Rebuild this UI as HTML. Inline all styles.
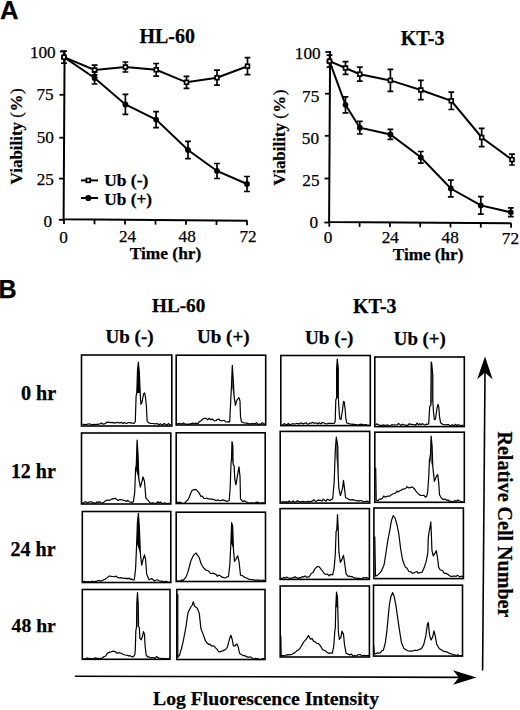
<!DOCTYPE html>
<html><head><meta charset="utf-8"><style>
html,body{margin:0;padding:0;background:#fff;}
body{width:520px;height:710px;overflow:hidden;}
svg{display:block;}
text{fill:#000;stroke:#000;stroke-width:0.25px;}
</style></head><body>
<svg width="520" height="710" viewBox="0 0 520 710">
<path d="M64.61,50.5 L63.6,219.29999999999998 L247.5,220.70" fill="none" stroke="#000" stroke-width="2" stroke-linejoin="miter"/>
<line x1="59.81" y1="51.5" x2="64.61" y2="51.5" stroke="#000" stroke-width="1.8"/>
<line x1="59.55" y1="94.8" x2="64.35" y2="94.8" stroke="#000" stroke-width="1.8"/>
<line x1="59.29" y1="137.7" x2="64.09" y2="137.7" stroke="#000" stroke-width="1.8"/>
<line x1="59.05" y1="178.6" x2="63.85" y2="178.6" stroke="#000" stroke-width="1.8"/>
<line x1="58.80" y1="219.8" x2="63.60" y2="219.8" stroke="#000" stroke-width="1.8"/>
<line x1="64.0" y1="219.60" x2="64.0" y2="224.10" stroke="#000" stroke-width="1.8"/>
<line x1="94.5" y1="219.78" x2="94.5" y2="224.28" stroke="#000" stroke-width="1.8"/>
<line x1="125.0" y1="219.97" x2="125.0" y2="224.47" stroke="#000" stroke-width="1.8"/>
<line x1="155.5" y1="220.15" x2="155.5" y2="224.65" stroke="#000" stroke-width="1.8"/>
<line x1="186.0" y1="220.33" x2="186.0" y2="224.83" stroke="#000" stroke-width="1.8"/>
<line x1="216.5" y1="220.51" x2="216.5" y2="225.01" stroke="#000" stroke-width="1.8"/>
<line x1="247.0" y1="220.70" x2="247.0" y2="225.20" stroke="#000" stroke-width="1.8"/>
<polyline points="64.0,57.2 94.6,70.0 125.4,67.0 156.2,69.8 186.5,82.3 217.0,77.7 247.5,66.2" fill="none" stroke="#000" stroke-width="2"/>
<polyline points="64.0,57.2 94.6,78.0 125.4,104.4 156.1,119.6 188.0,150.0 217.0,171.0 247.0,184.0" fill="none" stroke="#000" stroke-width="2"/>
<path d="M64.0,51.2 V63.2 M61.1,51.2 H66.9 M61.1,63.2 H66.9" stroke="#000" stroke-width="1.7" fill="none"/>
<path d="M94.6,65.2 V74.8 M91.7,65.2 H97.5 M91.7,74.8 H97.5" stroke="#000" stroke-width="1.7" fill="none"/>
<path d="M125.4,62.0 V72.0 M122.5,62.0 H128.3 M122.5,72.0 H128.3" stroke="#000" stroke-width="1.7" fill="none"/>
<path d="M156.2,63.5 V76.1 M153.3,63.5 H159.1 M153.3,76.1 H159.1" stroke="#000" stroke-width="1.7" fill="none"/>
<path d="M186.5,76.3 V88.3 M183.6,76.3 H189.4 M183.6,88.3 H189.4" stroke="#000" stroke-width="1.7" fill="none"/>
<path d="M217.0,70.2 V85.2 M214.1,70.2 H219.9 M214.1,85.2 H219.9" stroke="#000" stroke-width="1.7" fill="none"/>
<path d="M247.5,57.7 V74.7 M244.6,57.7 H250.4 M244.6,74.7 H250.4" stroke="#000" stroke-width="1.7" fill="none"/>
<path d="M94.6,72.0 V84.0 M91.7,72.0 H97.5 M91.7,84.0 H97.5" stroke="#000" stroke-width="1.7" fill="none"/>
<path d="M125.4,94.4 V114.4 M122.5,94.4 H128.3 M122.5,114.4 H128.3" stroke="#000" stroke-width="1.7" fill="none"/>
<path d="M156.1,111.6 V127.6 M153.2,111.6 H159.0 M153.2,127.6 H159.0" stroke="#000" stroke-width="1.7" fill="none"/>
<path d="M188.0,141.3 V158.7 M185.1,141.3 H190.9 M185.1,158.7 H190.9" stroke="#000" stroke-width="1.7" fill="none"/>
<path d="M217.0,163.5 V178.5 M214.1,163.5 H219.9 M214.1,178.5 H219.9" stroke="#000" stroke-width="1.7" fill="none"/>
<path d="M247.0,176.5 V191.5 M244.1,176.5 H249.9 M244.1,191.5 H249.9" stroke="#000" stroke-width="1.7" fill="none"/>
<circle cx="64.0" cy="57.2" r="2.9" fill="#000"/>
<circle cx="94.6" cy="78.0" r="2.9" fill="#000"/>
<circle cx="125.4" cy="104.4" r="2.9" fill="#000"/>
<circle cx="156.1" cy="119.6" r="2.9" fill="#000"/>
<circle cx="188.0" cy="150.0" r="2.9" fill="#000"/>
<circle cx="217.0" cy="171.0" r="2.9" fill="#000"/>
<circle cx="247.0" cy="184.0" r="2.9" fill="#000"/>
<rect x="62.1" y="55.3" width="3.8" height="3.8" fill="#fff" stroke="#000" stroke-width="1.7"/>
<rect x="92.7" y="68.1" width="3.8" height="3.8" fill="#fff" stroke="#000" stroke-width="1.7"/>
<rect x="123.5" y="65.1" width="3.8" height="3.8" fill="#fff" stroke="#000" stroke-width="1.7"/>
<rect x="154.3" y="67.9" width="3.8" height="3.8" fill="#fff" stroke="#000" stroke-width="1.7"/>
<rect x="184.6" y="80.4" width="3.8" height="3.8" fill="#fff" stroke="#000" stroke-width="1.7"/>
<rect x="215.1" y="75.8" width="3.8" height="3.8" fill="#fff" stroke="#000" stroke-width="1.7"/>
<rect x="245.6" y="64.3" width="3.8" height="3.8" fill="#fff" stroke="#000" stroke-width="1.7"/>
<path d="M330.12,51 L329.1,221.89999999999998 L511.3,223.30" fill="none" stroke="#000" stroke-width="2" stroke-linejoin="miter"/>
<line x1="325.32" y1="52" x2="330.12" y2="52" stroke="#000" stroke-width="1.8"/>
<line x1="325.07" y1="93.7" x2="329.87" y2="93.7" stroke="#000" stroke-width="1.8"/>
<line x1="324.82" y1="135.8" x2="329.62" y2="135.8" stroke="#000" stroke-width="1.8"/>
<line x1="324.56" y1="178.5" x2="329.36" y2="178.5" stroke="#000" stroke-width="1.8"/>
<line x1="324.30" y1="222.5" x2="329.10" y2="222.5" stroke="#000" stroke-width="1.8"/>
<line x1="329.3" y1="222.20" x2="329.3" y2="226.70" stroke="#000" stroke-width="1.8"/>
<line x1="359.6" y1="222.38" x2="359.6" y2="226.88" stroke="#000" stroke-width="1.8"/>
<line x1="389.9" y1="222.57" x2="389.9" y2="227.07" stroke="#000" stroke-width="1.8"/>
<line x1="420.2" y1="222.75" x2="420.2" y2="227.25" stroke="#000" stroke-width="1.8"/>
<line x1="450.5" y1="222.93" x2="450.5" y2="227.43" stroke="#000" stroke-width="1.8"/>
<line x1="480.8" y1="223.12" x2="480.8" y2="227.62" stroke="#000" stroke-width="1.8"/>
<line x1="511.1" y1="223.30" x2="511.1" y2="227.80" stroke="#000" stroke-width="1.8"/>
<polyline points="329.5,61.2 345.5,68.0 359.8,74.2 390.4,80.4 420.8,90.0 451.3,100.8 481.7,137.5 512.0,159.6" fill="none" stroke="#000" stroke-width="2"/>
<polyline points="329.5,61.2 345.5,104.8 359.8,127.7 390.4,134.4 420.8,157.3 450.8,188.5 480.8,205.4 510.8,212.3" fill="none" stroke="#000" stroke-width="2"/>
<path d="M329.5,55.2 V67.2 M326.6,55.2 H332.4 M326.6,67.2 H332.4" stroke="#000" stroke-width="1.7" fill="none"/>
<path d="M345.5,61.7 V74.3 M342.6,61.7 H348.4 M342.6,74.3 H348.4" stroke="#000" stroke-width="1.7" fill="none"/>
<path d="M359.8,67.2 V81.2 M356.9,67.2 H362.7 M356.9,81.2 H362.7" stroke="#000" stroke-width="1.7" fill="none"/>
<path d="M390.4,69.4 V91.4 M387.5,69.4 H393.3 M387.5,91.4 H393.3" stroke="#000" stroke-width="1.7" fill="none"/>
<path d="M420.8,80.4 V99.6 M417.9,80.4 H423.7 M417.9,99.6 H423.7" stroke="#000" stroke-width="1.7" fill="none"/>
<path d="M451.3,92.1 V109.5 M448.4,92.1 H454.2 M448.4,109.5 H454.2" stroke="#000" stroke-width="1.7" fill="none"/>
<path d="M481.7,128.3 V146.7 M478.8,128.3 H484.6 M478.8,146.7 H484.6" stroke="#000" stroke-width="1.7" fill="none"/>
<path d="M512.0,154.2 V165.0 M509.1,154.2 H514.9 M509.1,165.0 H514.9" stroke="#000" stroke-width="1.7" fill="none"/>
<path d="M345.5,96.8 V112.8 M342.6,96.8 H348.4 M342.6,112.8 H348.4" stroke="#000" stroke-width="1.7" fill="none"/>
<path d="M359.8,121.4 V134.0 M356.9,121.4 H362.7 M356.9,134.0 H362.7" stroke="#000" stroke-width="1.7" fill="none"/>
<path d="M390.4,129.4 V139.4 M387.5,129.4 H393.3 M387.5,139.4 H393.3" stroke="#000" stroke-width="1.7" fill="none"/>
<path d="M420.8,151.5 V163.1 M417.9,151.5 H423.7 M417.9,163.1 H423.7" stroke="#000" stroke-width="1.7" fill="none"/>
<path d="M450.8,180.2 V196.8 M447.9,180.2 H453.7 M447.9,196.8 H453.7" stroke="#000" stroke-width="1.7" fill="none"/>
<path d="M480.8,196.7 V214.1 M477.9,196.7 H483.7 M477.9,214.1 H483.7" stroke="#000" stroke-width="1.7" fill="none"/>
<path d="M510.8,207.9 V216.7 M507.9,207.9 H513.7 M507.9,216.7 H513.7" stroke="#000" stroke-width="1.7" fill="none"/>
<circle cx="329.5" cy="61.2" r="2.9" fill="#000"/>
<circle cx="345.5" cy="104.8" r="2.9" fill="#000"/>
<circle cx="359.8" cy="127.7" r="2.9" fill="#000"/>
<circle cx="390.4" cy="134.4" r="2.9" fill="#000"/>
<circle cx="420.8" cy="157.3" r="2.9" fill="#000"/>
<circle cx="450.8" cy="188.5" r="2.9" fill="#000"/>
<circle cx="480.8" cy="205.4" r="2.9" fill="#000"/>
<circle cx="510.8" cy="212.3" r="2.9" fill="#000"/>
<rect x="327.6" y="59.3" width="3.8" height="3.8" fill="#fff" stroke="#000" stroke-width="1.7"/>
<rect x="343.6" y="66.1" width="3.8" height="3.8" fill="#fff" stroke="#000" stroke-width="1.7"/>
<rect x="357.9" y="72.3" width="3.8" height="3.8" fill="#fff" stroke="#000" stroke-width="1.7"/>
<rect x="388.5" y="78.5" width="3.8" height="3.8" fill="#fff" stroke="#000" stroke-width="1.7"/>
<rect x="418.9" y="88.1" width="3.8" height="3.8" fill="#fff" stroke="#000" stroke-width="1.7"/>
<rect x="449.4" y="98.9" width="3.8" height="3.8" fill="#fff" stroke="#000" stroke-width="1.7"/>
<rect x="479.8" y="135.6" width="3.8" height="3.8" fill="#fff" stroke="#000" stroke-width="1.7"/>
<rect x="510.1" y="157.7" width="3.8" height="3.8" fill="#fff" stroke="#000" stroke-width="1.7"/>
<line x1="81" y1="180.4" x2="98" y2="180.4" stroke="#000" stroke-width="2"/>
<rect x="86.4" y="178.5" width="3.8" height="3.8" fill="#fff" stroke="#000" stroke-width="1.7"/>
<line x1="81" y1="198" x2="98" y2="198" stroke="#000" stroke-width="2"/>
<circle cx="88.3" cy="198" r="3.1" fill="#000"/>
<rect x="81.5" y="355" width="90.3" height="71.0" fill="none" stroke="#000" stroke-width="1.6"/>
<rect x="81.5" y="433" width="89.3" height="71.0" fill="none" stroke="#000" stroke-width="1.6"/>
<rect x="82.3" y="511.5" width="88.5" height="71.0" fill="none" stroke="#000" stroke-width="1.6"/>
<rect x="82.3" y="589.5" width="87.7" height="69.8" fill="none" stroke="#000" stroke-width="1.6"/>
<rect x="176.2" y="355.2" width="89.5" height="69.8" fill="none" stroke="#000" stroke-width="1.6"/>
<rect x="176.2" y="432.8" width="89.0" height="70.7" fill="none" stroke="#000" stroke-width="1.6"/>
<rect x="176.2" y="512.2" width="89.3" height="69.3" fill="none" stroke="#000" stroke-width="1.6"/>
<rect x="176.8" y="589.5" width="88.2" height="70.0" fill="none" stroke="#000" stroke-width="1.6"/>
<rect x="280.8" y="355.5" width="89.5" height="70.1" fill="none" stroke="#000" stroke-width="1.6"/>
<rect x="280.2" y="431.4" width="89.5" height="71.7" fill="none" stroke="#000" stroke-width="1.6"/>
<rect x="280.1" y="508.6" width="89.3" height="70.8" fill="none" stroke="#000" stroke-width="1.6"/>
<rect x="280.2" y="586" width="89.2" height="71.0" fill="none" stroke="#000" stroke-width="1.6"/>
<rect x="374.8" y="357" width="89.5" height="69.6" fill="none" stroke="#000" stroke-width="1.6"/>
<rect x="374.8" y="432.2" width="89.5" height="70.1" fill="none" stroke="#000" stroke-width="1.6"/>
<rect x="373.9" y="508" width="89.5" height="70.6" fill="none" stroke="#000" stroke-width="1.6"/>
<rect x="373.5" y="585.2" width="89.0" height="70.9" fill="none" stroke="#000" stroke-width="1.6"/>
<polygon points="136.8,393.0 137.5,370.4 138.4,362.2 139.4,373.5 140.2,393.0" fill="#000" stroke="none"/>
<polyline points="82.5,424.5 83.8,424.3 85.2,424.7 86.5,424.3 87.9,424.2 89.2,423.8 90.6,424.2 91.9,424.8 93.3,424.4 94.6,424.7 96.0,424.3 97.3,424.3 98.7,424.1 100.0,424.0 101.3,422.9 102.7,424.1 104.0,423.8 105.3,423.6 106.7,422.3 108.0,422.1 109.4,422.4 110.7,422.7 112.0,422.4 113.4,422.9 114.7,422.7 116.0,423.0 117.3,422.3 118.7,422.9 120.0,422.9 121.3,422.3 122.7,423.6 124.0,422.7 125.4,423.1 126.8,423.5 128.2,422.6 129.6,422.6 131.0,422.9 132.4,423.2 133.8,423.3 135.3,421.8 136.1,396.1 136.8,393.0 137.5,370.4 138.4,362.2 139.4,373.5 140.2,393.0 140.9,404.3 142.0,402.3 143.5,394.0 144.7,393.0 145.6,398.2 146.4,406.4 147.1,420.8 148.6,422.8 150.2,423.4 151.8,423.5 153.4,423.5 155.0,424.0 156.3,423.5 157.7,423.8 159.0,424.9 160.3,423.8 161.7,424.5 163.0,424.6 164.3,423.6 165.7,424.6 167.0,425.3 168.3,423.6 169.7,424.6 171.0,424.8" fill="none" stroke="#000" stroke-width="1.2" stroke-linejoin="round"/>
<polygon points="231.5,385.8 232.3,365.3 233.3,380.7 234.1,396.1" fill="#555" stroke="none"/>
<polyline points="177.0,423.8 178.3,423.7 179.6,423.3 180.9,424.0 182.2,423.7 183.6,422.9 184.9,424.1 186.2,424.0 187.5,424.2 188.8,424.4 190.1,423.8 191.4,423.7 192.8,422.9 194.1,423.9 195.4,423.2 196.7,423.3 198.0,423.5 199.4,421.6 200.8,421.0 202.7,419.1 204.5,418.3 206.1,418.4 207.7,419.8 209.3,418.3 210.9,419.8 212.2,419.1 213.5,420.1 214.8,420.9 216.2,420.5 217.5,419.3 218.8,419.0 220.1,420.5 221.5,420.9 222.9,420.5 224.3,420.4 225.7,421.8 227.1,422.0 228.5,421.6 229.7,421.8 230.2,411.5 231.5,385.8 232.3,365.3 233.3,380.7 234.1,396.1 235.4,405.4 236.9,400.2 239.0,397.7 240.0,401.2 240.5,416.7 241.5,421.8 243.6,422.8 245.0,423.0 246.5,423.1 247.9,423.3 249.4,424.0 250.8,423.6 252.3,423.6 253.8,423.7 255.2,423.5 256.6,422.7 258.0,424.3 259.4,424.2 260.8,424.1 262.2,422.8 263.6,423.6 265.0,424.0" fill="none" stroke="#000" stroke-width="1.2" stroke-linejoin="round"/>
<polygon points="336.6,398.0 336.6,368.8 337.3,359.0 338.3,368.8 338.3,398.0" fill="#000" stroke="none"/>
<polyline points="281.5,424.8 282.9,425.1 284.2,423.6 285.6,424.3 287.0,424.9 288.3,423.5 289.7,425.0 291.0,424.3 292.4,423.8 293.8,423.9 295.1,424.0 296.5,423.5 297.8,423.5 299.2,424.1 300.5,423.1 301.8,423.2 303.2,423.9 304.5,423.4 305.9,422.8 307.2,423.8 308.5,424.1 309.9,423.0 311.2,423.2 312.6,422.4 313.9,423.1 315.3,423.1 316.7,423.0 318.1,424.0 319.4,422.6 320.8,423.9 322.2,422.5 323.5,422.8 324.9,423.5 326.3,423.8 327.6,423.7 329.0,423.4 330.4,423.3 331.8,423.3 333.1,423.5 334.5,423.2 335.2,421.0 335.8,400.0 336.6,398.0 336.6,368.8 337.3,359.0 338.3,368.8 338.3,398.0 339.2,412.0 339.8,419.0 341.0,419.5 342.5,410.0 343.5,401.4 344.3,402.0 345.2,410.0 345.8,418.0 346.7,423.0 348.4,423.4 350.0,424.0 351.3,424.2 352.6,424.4 353.9,424.2 355.2,424.6 356.5,424.6 357.8,425.4 359.1,424.6 360.4,424.2 361.7,424.3 363.0,424.5 364.3,425.1 365.6,424.5 366.9,424.9 368.2,425.8 369.5,424.8" fill="none" stroke="#000" stroke-width="1.2" stroke-linejoin="round"/>
<polygon points="430.8,405.4 431.2,362.2 431.6,362.5 432.8,375.0 432.8,400.2" fill="#666" stroke="none"/>
<polyline points="375.5,425.2 376.9,423.8 378.2,424.6 379.6,425.3 381.0,425.4 382.3,425.3 383.7,424.9 385.1,425.5 386.4,425.2 387.8,424.8 389.2,426.4 390.5,425.2 391.9,424.7 393.3,425.0 394.6,424.9 396.0,425.0 397.3,424.9 398.6,423.4 400.0,424.6 401.3,425.4 402.6,424.2 403.9,424.7 405.2,425.3 406.6,425.2 407.9,425.5 409.2,423.7 410.5,424.4 411.9,424.4 413.2,424.9 414.5,424.5 415.8,425.1 417.1,423.0 418.4,425.0 419.7,423.6 421.0,424.8 422.3,423.6 423.6,424.5 424.9,425.0 426.2,424.2 427.5,424.3 428.7,423.9 429.5,410.0 429.8,406.4 430.8,405.4 431.2,362.2 431.6,362.5 432.8,375.0 432.8,400.2 433.5,412.0 434.4,419.7 435.5,419.0 437.0,408.0 438.0,404.3 438.8,407.0 439.5,416.7 440.6,422.8 443.0,424.5 444.4,424.7 445.7,425.0 447.1,424.7 448.5,424.6 449.8,425.6 451.2,425.4 452.6,424.7 453.9,426.4 455.3,424.3 456.7,425.5 458.0,424.9 459.4,425.1 460.8,425.5 462.1,425.3 463.5,425.2" fill="none" stroke="#000" stroke-width="1.2" stroke-linejoin="round"/>
<polygon points="135.6,468.6 136.3,464.9 137.1,440.0 138.0,453.8 138.9,479.7" fill="#000" stroke="none"/>
<polyline points="82.0,502.8 83.4,503.1 84.7,501.9 86.1,501.9 87.5,503.0 88.8,502.1 90.2,502.0 91.5,501.7 92.9,503.2 94.3,502.9 95.6,503.2 97.0,501.9 98.3,502.4 99.7,501.7 101.1,502.7 102.4,503.1 103.8,502.2 105.7,500.6 107.5,500.0 109.1,500.4 110.6,499.7 112.2,498.7 113.7,498.9 115.3,498.2 116.8,499.6 118.2,500.5 119.5,499.7 120.9,499.6 122.3,500.0 123.7,500.4 125.1,500.7 126.5,501.5 127.8,500.3 129.2,501.7 130.6,502.2 132.0,502.4 133.4,501.8 134.7,492.6 135.6,468.6 136.3,464.9 137.1,440.0 138.0,453.8 138.9,479.7 140.4,487.1 141.9,481.5 143.0,476.9 144.5,481.5 145.9,498.2 147.3,499.6 148.6,500.9 150.0,502.8 151.3,503.4 152.7,502.9 154.0,503.0 155.3,503.7 156.7,502.8 158.0,501.7 159.3,502.8 160.7,502.0 162.0,503.6 163.3,503.3 164.7,502.8 166.0,503.2 167.3,503.7 168.7,503.3 170.0,503.3" fill="none" stroke="#000" stroke-width="1.2" stroke-linejoin="round"/>
<polygon points="231.5,458.7 232.0,441.7 232.8,445.3 233.1,463.8" fill="#555" stroke="none"/>
<polyline points="177.0,501.8 178.3,502.7 179.7,502.1 181.1,502.9 182.4,503.3 183.8,503.5 185.1,502.8 186.4,501.0 187.8,500.0 189.2,497.2 190.6,493.5 192.0,490.6 193.4,489.8 195.8,489.3 198.0,491.7 199.4,493.4 200.8,496.3 202.3,496.0 203.9,498.4 205.4,498.5 206.7,498.0 208.0,498.8 209.3,498.9 210.7,499.1 212.0,499.0 213.3,499.6 214.6,499.6 216.0,500.7 217.4,499.9 218.8,500.4 220.1,500.8 221.5,500.3 222.9,499.9 224.3,500.4 225.7,500.9 227.4,501.3 229.2,500.5 230.2,487.5 231.0,463.8 231.5,458.7 232.0,441.7 232.8,445.3 233.1,463.8 234.1,465.9 234.8,479.2 235.9,484.9 237.4,476.2 239.0,466.9 240.0,476.2 240.5,498.8 242.6,501.3 244.3,500.8 246.0,501.8 247.7,502.5 249.1,503.1 250.5,503.1 251.9,502.7 253.3,503.2 254.7,502.9 256.1,502.3 257.5,502.1 258.9,502.7 260.3,503.6 261.7,502.9 263.1,502.7 264.5,503.3" fill="none" stroke="#000" stroke-width="1.2" stroke-linejoin="round"/>
<polygon points="335.3,450.0 336.3,437.2 337.8,446.4 338.2,475.2" fill="#666" stroke="none"/>
<polyline points="281.0,502.4 282.4,501.9 283.7,501.5 285.1,502.2 286.5,501.6 287.9,502.4 289.2,500.8 290.6,502.3 292.0,501.7 293.3,500.9 294.7,502.4 296.1,501.8 297.5,500.7 298.8,501.4 300.2,501.8 301.6,501.9 302.9,501.3 304.3,501.9 305.6,501.8 307.0,501.7 308.3,501.4 309.7,501.8 311.0,501.4 312.4,501.1 313.7,499.7 315.1,501.2 316.4,501.3 317.8,500.3 319.1,500.1 320.5,500.3 321.9,501.2 323.2,499.1 324.6,500.2 326.0,501.1 327.4,499.2 328.8,499.9 330.1,500.5 331.5,499.3 332.7,499.0 334.2,481.4 335.3,450.0 336.3,437.2 337.8,446.4 338.2,475.2 338.9,488.6 340.4,495.7 342.5,488.6 343.5,480.3 344.5,488.6 345.6,497.8 347.1,498.3 348.6,499.2 350.2,499.9 351.7,499.9 353.0,499.6 354.4,500.2 355.7,500.5 357.0,501.0 358.4,500.7 359.7,500.8 361.0,500.5 362.3,501.0 363.7,501.8 365.0,501.6 366.3,501.2 367.7,501.4 369.0,502.0" fill="none" stroke="#000" stroke-width="1.2" stroke-linejoin="round"/>
<polygon points="429.5,459.8 430.5,454.6 431.1,436.1 432.1,446.4 432.8,467.0" fill="#666" stroke="none"/>
<polyline points="375.7,467.7 376.2,500.0 377.8,501.0 379.4,499.1 380.9,499.2 382.4,498.3 383.8,496.0 385.3,497.2 386.8,496.3 388.3,496.0 389.8,496.1 391.2,494.9 392.7,494.0 394.2,493.5 395.6,493.1 396.9,491.1 398.3,492.0 399.7,490.8 401.2,490.3 402.8,489.1 404.3,488.9 405.7,488.5 407.1,486.7 409.0,488.0 410.8,487.4 412.1,486.9 413.5,488.0 414.9,489.5 416.3,491.7 418.1,493.6 420.0,495.2 421.3,495.5 422.7,495.4 424.0,495.3 425.4,497.2 426.7,496.3 427.7,491.6 428.7,477.2 429.5,459.8 430.5,454.6 431.1,436.1 432.1,446.4 432.8,467.0 434.4,481.4 436.4,476.2 437.7,474.7 438.7,482.4 439.5,494.7 441.6,498.3 443.3,499.6 445.0,499.0 446.7,500.4 448.1,499.8 449.5,501.5 450.9,501.2 452.3,501.8 453.7,501.3 455.1,500.5 456.5,501.2 457.9,499.9 459.3,500.8 460.7,501.3 462.1,501.7 463.5,501.5" fill="none" stroke="#000" stroke-width="1.2" stroke-linejoin="round"/>
<polygon points="136.7,542.9 137.4,522.6 138.4,513.4 139.3,526.3 140.4,554.0" fill="#000" stroke="none"/>
<polyline points="83.0,581.7 84.3,581.3 85.7,581.6 87.0,581.8 88.4,581.7 89.8,581.9 91.1,581.6 92.5,581.2 93.8,581.8 95.2,581.4 96.5,581.3 97.9,580.7 99.2,580.7 100.6,580.9 102.0,580.8 103.8,579.8 105.7,578.9 107.3,577.6 109.0,576.1 110.4,576.2 111.7,576.5 113.1,576.5 114.6,576.6 116.1,576.2 117.5,577.4 119.0,578.0 120.5,577.6 122.0,578.1 123.4,578.0 124.9,578.6 126.3,578.1 127.8,578.9 129.1,578.0 130.4,579.3 131.7,578.9 133.0,580.0 134.3,579.8 135.6,568.8 136.7,542.9 137.4,522.6 138.4,513.4 139.3,526.3 140.4,554.0 141.7,565.1 143.0,559.5 144.5,554.9 145.6,559.5 146.7,574.3 149.1,579.8 150.4,579.3 151.7,578.6 153.0,579.6 154.3,581.1 155.6,580.2 156.9,579.8 158.2,580.2 159.6,581.0 160.9,581.1 162.2,581.1 163.5,581.9 164.8,581.6 166.1,581.3 167.4,581.8 168.7,582.5 170.0,581.7" fill="none" stroke="#000" stroke-width="1.2" stroke-linejoin="round"/>
<polygon points="230.9,542.9 231.6,522.6 232.7,526.3 233.4,548.5" fill="#000" stroke="none"/>
<polyline points="177.0,580.8 178.6,581.2 180.1,581.2 181.6,579.9 183.2,580.4 184.6,578.7 186.0,577.1 187.4,573.4 188.8,568.8 191.0,560.5 193.4,555.5 194.8,554.1 196.2,553.1 197.6,555.5 198.9,556.8 201.3,564.2 202.9,566.8 204.5,568.8 206.0,570.2 207.6,570.5 209.1,571.5 210.5,573.5 211.8,573.4 213.2,573.2 214.6,573.9 216.0,574.4 217.4,576.3 218.8,575.1 220.2,575.8 222.0,577.2 223.8,577.6 225.4,577.8 226.9,576.9 228.5,576.5 229.8,565.1 230.9,542.9 231.6,522.6 232.7,526.3 233.4,548.5 234.5,561.4 235.8,559.5 237.7,555.8 239.0,561.4 240.5,575.2 242.3,575.5 244.2,577.1 245.7,577.7 247.1,578.3 248.6,579.2 250.0,579.5 251.5,579.5 252.8,579.6 254.2,580.2 255.6,580.2 256.9,580.1 258.2,580.2 259.6,580.1 260.9,580.8 262.3,580.0 263.6,580.3 265.0,580.8" fill="none" stroke="#000" stroke-width="1.2" stroke-linejoin="round"/>
<polygon points="336.8,530.1 337.5,514.7 338.2,528.6" fill="#000" stroke="none"/>
<polyline points="281.0,578.4 282.4,578.3 283.8,577.4 285.2,577.9 286.6,577.0 288.0,577.7 289.5,578.3 290.9,578.2 292.3,577.8 293.7,577.6 295.1,576.9 296.5,577.6 297.9,578.5 299.4,577.6 300.8,577.8 302.2,576.6 303.7,576.9 305.1,575.9 306.5,577.2 308.0,577.1 309.4,576.5 311.2,573.5 313.1,572.5 314.9,568.8 316.8,566.9 319.0,566.5 321.4,569.7 322.8,571.5 324.2,573.4 325.8,574.5 327.5,574.0 329.1,575.8 330.9,574.3 332.7,574.8 334.2,567.6 335.3,554.2 336.1,531.6 336.8,530.1 337.5,514.7 338.2,528.6 338.9,552.2 340.4,562.5 342.0,559.4 343.5,555.3 345.0,565.6 346.1,573.8 348.1,576.3 349.4,576.0 350.8,576.6 352.1,576.5 353.5,577.6 354.8,577.9 356.2,578.1 357.6,578.3 359.1,578.4 360.5,578.9 361.9,578.8 363.3,577.5 364.7,578.0 366.2,577.7 367.6,577.8 369.0,578.4" fill="none" stroke="#000" stroke-width="1.2" stroke-linejoin="round"/>
<polyline points="374.8,536.5 375.5,576.1 377.5,575.2 379.4,573.3 381.2,571.5 382.6,568.3 384.0,565.1 385.8,554.0 387.7,541.1 389.5,531.8 391.4,520.8 393.2,515.6 395.1,518.0 396.9,524.5 398.8,533.7 400.6,548.5 402.5,559.5 403.9,563.5 405.2,566.9 407.0,568.3 408.9,571.5 410.8,571.8 412.6,573.4 414.1,572.8 415.7,572.0 417.2,571.5 418.0,573.3 419.4,572.8 420.7,572.5 422.1,572.2 424.2,567.6 426.2,561.4 427.8,553.2 428.3,537.8 429.1,531.6 429.8,528.6 430.8,521.9 431.4,534.7 431.9,550.1 433.2,555.8 435.0,553.2 436.3,550.7 437.5,557.3 438.6,567.1 440.1,569.7 442.7,570.7 444.2,573.3 446.0,573.4 447.8,574.3 449.5,575.8 450.8,576.3 452.2,576.3 453.5,576.1 454.8,576.0 456.1,576.4 457.5,575.1 458.8,576.2 460.1,576.9 461.5,576.1 462.8,577.1" fill="none" stroke="#000" stroke-width="1.2" stroke-linejoin="round"/>
<polygon points="136.5,627.1 136.8,603.4 137.5,592.6 138.2,604.4 138.6,626.5" fill="#666" stroke="none"/>
<polyline points="83.0,658.8 84.4,658.9 85.7,658.8 87.1,657.9 88.4,658.5 89.8,658.4 91.1,658.8 92.5,658.8 93.9,658.4 95.2,657.9 96.6,658.3 97.9,658.3 99.3,658.7 100.6,658.4 102.0,658.2 103.8,656.7 105.7,656.0 107.1,653.6 108.5,652.7 109.8,652.1 111.2,651.9 112.6,651.2 114.0,651.4 115.4,651.7 116.8,653.2 118.2,652.9 119.5,652.7 121.3,653.3 123.2,654.5 125.2,655.0 127.1,655.3 128.5,655.9 129.8,655.7 131.2,656.3 133.0,656.8 134.8,654.8 135.3,649.7 135.8,631.2 136.5,627.1 136.8,603.4 137.5,592.6 138.2,604.4 138.6,626.5 139.4,628.1 139.9,638.4 141.2,639.9 142.5,636.3 143.5,631.7 144.5,634.2 145.0,644.5 146.1,654.8 147.6,656.9 149.2,656.9 150.7,657.9 152.2,657.6 153.8,657.7 155.1,658.4 156.4,656.5 157.7,657.4 159.0,658.0 160.3,658.3 161.7,659.3 163.0,658.2 164.3,658.8 165.6,658.6 166.9,658.7 168.2,658.5 169.5,658.3" fill="none" stroke="#000" stroke-width="1.2" stroke-linejoin="round"/>
<polyline points="177.8,594.0 177.8,657.5 179.6,654.9 181.5,648.5 183.1,641.8 184.8,633.0 186.2,625.5 187.3,617.0 188.2,612.3 190.5,607.5 192.3,605.0 193.3,601.7 194.5,606.0 195.9,607.1 197.3,608.3 199.3,613.4 200.9,628.6 202.9,633.6 205.4,640.7 206.9,642.8 208.5,644.3 209.8,644.2 211.2,645.9 212.5,645.8 214.1,646.2 215.6,647.8 217.1,649.3 218.6,651.7 220.1,651.9 221.6,651.1 223.2,650.6 224.7,649.9 226.1,649.0 227.5,646.8 229.4,639.4 230.9,635.3 232.2,639.4 233.4,645.8 234.9,645.8 236.8,644.0 238.2,646.8 239.5,653.2 241.3,654.4 243.2,655.6 244.6,655.5 246.0,656.4 247.3,656.9 248.7,657.3 250.1,656.8 251.5,657.5 252.8,658.7 254.2,658.9 255.5,658.3 256.8,658.7 258.1,658.6 259.5,659.8 260.8,659.3 262.6,658.7 264.5,658.8" fill="none" stroke="#000" stroke-width="1.2" stroke-linejoin="round"/>
<polygon points="335.8,606.6 336.5,592.2 337.5,597.3 337.8,608.6" fill="#000" stroke="none"/>
<polyline points="280.8,635.4 281.2,655.7 283.5,655.7 284.9,655.8 286.3,655.0 287.7,654.6 289.1,654.8 290.5,654.7 291.9,654.6 293.2,653.4 294.6,652.9 296.5,651.1 298.3,650.1 299.7,648.7 301.1,646.5 302.5,644.1 303.8,641.8 305.2,640.4 306.6,638.7 308.5,635.4 310.3,639.1 312.2,638.7 313.5,641.1 314.9,641.8 316.8,643.4 318.6,643.7 320.0,645.3 321.4,647.4 322.8,650.0 324.2,650.1 326.0,651.5 327.8,652.9 329.3,653.5 330.7,652.8 332.2,653.3 333.7,646.7 334.8,631.2 335.3,628.2 335.8,606.6 336.5,592.2 337.5,597.3 337.8,608.6 338.4,632.3 339.4,639.5 340.9,637.4 342.0,631.2 343.5,634.3 344.5,644.6 346.1,653.3 347.9,654.1 349.7,654.9 351.4,654.1 353.1,656.2 354.8,655.4 356.2,656.2 357.6,654.8 359.1,654.7 360.5,654.6 361.9,656.2 363.3,655.3 364.7,655.6 366.2,655.5 367.6,655.6 369.0,655.7" fill="none" stroke="#000" stroke-width="1.2" stroke-linejoin="round"/>
<polyline points="373.8,645.5 374.3,653.8 375.7,653.8 377.2,652.9 378.8,653.2 380.3,652.9 381.9,650.7 383.4,650.1 385.3,642.8 386.8,631.7 388.2,616.9 389.5,604.0 391.0,596.2 392.7,592.6 394.2,596.6 396.0,605.8 397.8,618.8 399.7,631.7 401.5,642.8 403.8,648.3 405.5,649.4 407.1,650.5 408.6,650.9 410.2,651.2 411.7,651.1 413.2,650.8 414.8,650.2 416.3,650.5 417.7,650.2 419.0,649.4 420.4,649.2 422.0,647.8 423.7,644.6 425.9,635.4 427.4,624.3 428.3,622.5 429.6,635.4 431.1,640.0 432.6,637.2 434.0,630.8 435.1,635.4 436.6,643.7 438.0,646.6 439.4,648.7 441.2,649.8 443.1,651.1 444.7,651.4 446.3,651.9 447.9,652.4 449.5,653.5 450.8,653.6 452.2,654.2 453.5,654.6 454.8,654.8 456.1,655.9 457.5,654.7 458.8,655.3 460.4,655.5 462.0,655.7" fill="none" stroke="#000" stroke-width="1.2" stroke-linejoin="round"/>
<line x1="485" y1="372" x2="482.6" y2="670.5" stroke="#000" stroke-width="1.6"/>
<path d="M485,356.5 L492.7,379.5 L485,372.4 L477.1,379.3 Z" fill="#000"/>
<line x1="74.8" y1="676.3" x2="462" y2="677.4" stroke="#000" stroke-width="1.6"/>
<path d="M476.4,677.4 L453.1,670.3 L458.9,677.4 L453.1,684.7 Z" fill="#000"/>
<text x="-0.10" y="18.70" style="font-family:'Liberation Sans',sans-serif;font-size:25.64px;font-weight:bold">A</text>
<text x="-1.50" y="297.50" style="font-family:'Liberation Sans',sans-serif;font-size:25.08px;font-weight:bold">B</text>
<text x="139.50" y="43.00" style="font-family:'Liberation Serif',serif;font-size:19.94px;font-weight:bold">HL-60</text>
<text x="400.70" y="45.00" style="font-family:'Liberation Serif',serif;font-size:20.07px;font-weight:bold">KT-3</text>
<text x="29.90" y="57.60" style="font-family:'Liberation Serif',serif;font-size:17.20px;font-weight:normal">100</text>
<text x="36.40" y="99.60" style="font-family:'Liberation Serif',serif;font-size:17.20px;font-weight:normal">75</text>
<text x="36.70" y="142.70" style="font-family:'Liberation Serif',serif;font-size:17.20px;font-weight:normal">50</text>
<text x="36.70" y="184.50" style="font-family:'Liberation Serif',serif;font-size:17.20px;font-weight:normal">25</text>
<text x="43.50" y="226.70" style="font-family:'Liberation Serif',serif;font-size:17.20px;font-weight:normal">0</text>
<text x="59.30" y="242.50" style="font-family:'Liberation Serif',serif;font-size:17.20px;font-weight:normal">0</text>
<text x="118.90" y="241.90" style="font-family:'Liberation Serif',serif;font-size:17.20px;font-weight:normal">24</text>
<text x="178.60" y="242.20" style="font-family:'Liberation Serif',serif;font-size:17.20px;font-weight:normal">48</text>
<text x="239.50" y="242.20" style="font-family:'Liberation Serif',serif;font-size:17.20px;font-weight:normal">72</text>
<text x="129.80" y="259.20" style="font-family:'Liberation Serif',serif;font-size:17.35px;font-weight:bold">Time (hr)</text>
<text x="294.80" y="59.10" style="font-family:'Liberation Serif',serif;font-size:17.20px;font-weight:normal">100</text>
<text x="302.10" y="101.80" style="font-family:'Liberation Serif',serif;font-size:17.20px;font-weight:normal">75</text>
<text x="301.80" y="143.60" style="font-family:'Liberation Serif',serif;font-size:17.20px;font-weight:normal">50</text>
<text x="302.30" y="185.70" style="font-family:'Liberation Serif',serif;font-size:17.20px;font-weight:normal">25</text>
<text x="309.40" y="228.20" style="font-family:'Liberation Serif',serif;font-size:17.20px;font-weight:normal">0</text>
<text x="323.70" y="242.60" style="font-family:'Liberation Serif',serif;font-size:17.20px;font-weight:normal">0</text>
<text x="381.70" y="242.60" style="font-family:'Liberation Serif',serif;font-size:17.20px;font-weight:normal">24</text>
<text x="441.60" y="242.60" style="font-family:'Liberation Serif',serif;font-size:17.20px;font-weight:normal">48</text>
<text x="501.80" y="243.60" style="font-family:'Liberation Serif',serif;font-size:17.20px;font-weight:normal">72</text>
<text x="392.80" y="260.00" style="font-family:'Liberation Serif',serif;font-size:17.15px;font-weight:bold">Time (hr)</text>
<text x="104.20" y="186.10" style="font-family:'Liberation Serif',serif;font-size:17.44px;font-weight:bold">Ub (-)</text>
<text x="104.20" y="204.60" style="font-family:'Liberation Serif',serif;font-size:17.35px;font-weight:bold">Ub (+)</text>
<text x="152.00" y="312.00" style="font-family:'Liberation Serif',serif;font-size:19.21px;font-weight:bold">HL-60</text>
<text x="353.00" y="313.00" style="font-family:'Liberation Serif',serif;font-size:19.94px;font-weight:bold">KT-3</text>
<text x="105.50" y="343.00" style="font-family:'Liberation Serif',serif;font-size:19.02px;font-weight:bold">Ub (-)</text>
<text x="197.00" y="343.25" style="font-family:'Liberation Serif',serif;font-size:19.03px;font-weight:bold">Ub (+)</text>
<text x="305.00" y="343.80" style="font-family:'Liberation Serif',serif;font-size:19.21px;font-weight:bold">Ub (-)</text>
<text x="393.80" y="344.50" style="font-family:'Liberation Serif',serif;font-size:18.83px;font-weight:bold">Ub (+)</text>
<text x="20.90" y="399.60" style="font-family:'Liberation Serif',serif;font-size:20.15px;font-weight:bold">0 hr</text>
<text x="10.90" y="477.80" style="font-family:'Liberation Serif',serif;font-size:19.96px;font-weight:bold">12 hr</text>
<text x="10.50" y="555.70" style="font-family:'Liberation Serif',serif;font-size:20.03px;font-weight:bold">24 hr</text>
<text x="11.60" y="632.40" style="font-family:'Liberation Serif',serif;font-size:19.66px;font-weight:bold">48 hr</text>
<text x="153.00" y="704.90" style="font-family:'Liberation Serif',serif;font-size:19.69px;font-weight:bold">Log Fluorescence Intensity</text>
<text transform="translate(21.60,184.40) rotate(-90)" style="font-family:'Liberation Serif',serif;font-size:16.97px;font-weight:bold"><tspan font-weight="bold">Viability</tspan><tspan font-weight="normal"> (</tspan><tspan font-weight="bold" dx="0.5">%</tspan><tspan font-weight="normal" dx="0.5">)</tspan></text>
<text transform="translate(284.60,185.40) rotate(-90)" style="font-family:'Liberation Serif',serif;font-size:16.93px;font-weight:bold"><tspan font-weight="bold">Viability</tspan><tspan font-weight="normal"> (</tspan><tspan font-weight="bold" dx="0.5">%</tspan><tspan font-weight="normal" dx="0.5">)</tspan></text>
<text transform="translate(497.90,431.50) rotate(90)" style="font-family:'Liberation Serif',serif;font-size:20.04px;font-weight:bold">Relative Cell Number</text>
</svg>
</body></html>
